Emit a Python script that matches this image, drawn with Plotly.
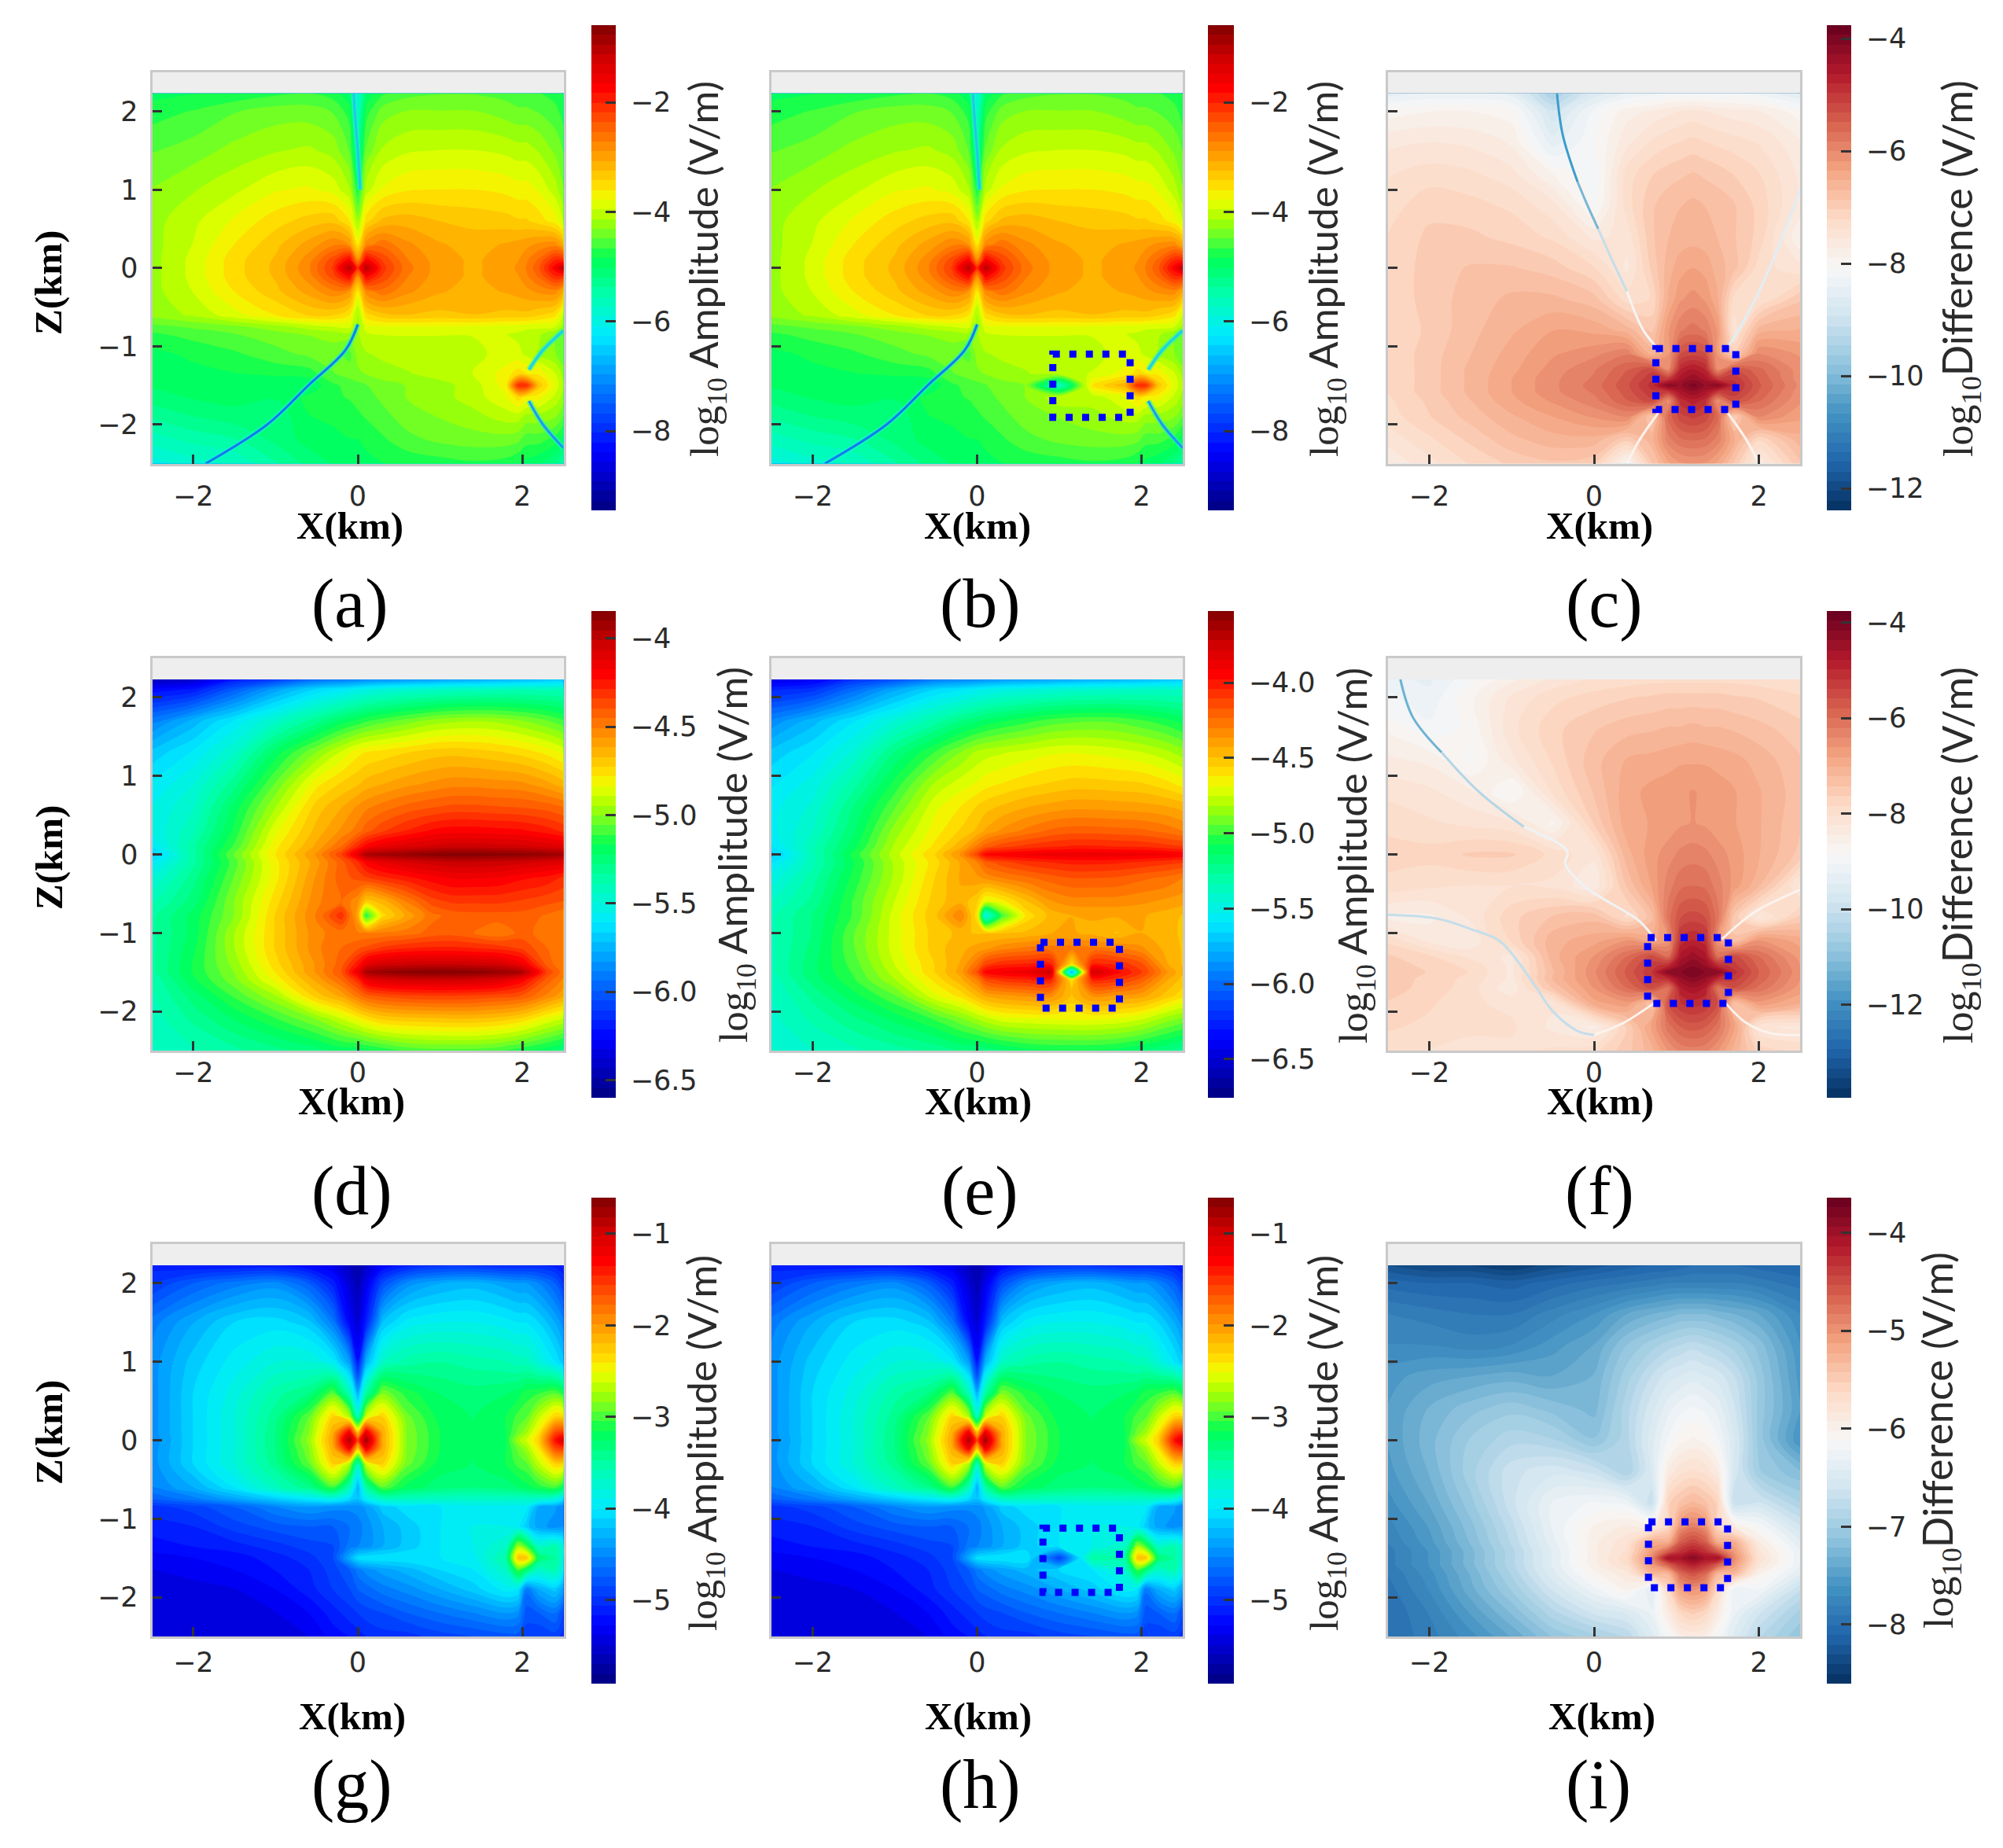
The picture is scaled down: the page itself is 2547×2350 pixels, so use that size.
import copy
import plotly.graph_objects as go

# the page keeps an 8px body margin, so the figure is smaller and positions are shifted back
PAGE_W, PAGE_H, BODY = 2547, 2350, 8
W, H = PAGE_W - 2 * BODY, PAGE_H - 2 * BODY

# grids used by the amplitude panels a,b,g,h (source at x=0, x=2, x=2.5)
x_src = [-2.5, -2, -1.5, -1, -0.6, -0.3, -0.1, 0, 0.1, 0.3, 0.6, 1, 1.4, 1.8, 1.95, 2.05, 2.2, 2.4, 2.5]
z_src = [2.23, 2, 1.5, 1, 0.6, 0.3, 0.1, 0, -0.1, -0.3, -0.6, -0.75, -0.85, -1.1, -1.35, -1.5, -1.65, -1.9, -2.2, -2.5]
# grid for d,e
x_line = [-2.5, -2, -1.5, -1, -0.5, -0.2, 0, 0.1, 0.3, 0.6, 0.9, 1.15, 1.4, 1.7, 2, 2.3, 2.5]
z_line = [2.23, 2.1, 1.7, 1.3, 0.9, 0.6, 0.3, 0.1, 0, -0.1, -0.3, -0.6, -0.78, -1, -1.2, -1.4, -1.5, -1.6, -1.8, -2.1, -2.5]
# grid for the difference panels c,f,i
x_diff = [-2.5, -2, -1.5, -1, -0.5, 0, 0.4, 0.7, 0.9, 1.05, 1.2, 1.35, 1.5, 1.7, 2, 2.5]
z_diff = [2.23, 2, 1.6, 1.2, 0.8, 0.4, 0, -0.4, -0.8, -1.1, -1.3, -1.42, -1.5, -1.58, -1.7, -1.9, -2.2, -2.5]

z_a = [
    [-4.9, -4.85, -4.8, -4.7, -4.65, -4.75, -5.0, -5.9, -5.0, -4.7, -4.55, -4.5, -4.5, -4.55, -4.6, -4.6, -4.65, -4.75, -4.85],
    [-4.75, -4.65, -4.5, -4.4, -4.4, -4.5, -4.75, -5.7, -4.75, -4.4, -4.3, -4.3, -4.3, -4.4, -4.45, -4.45, -4.5, -4.6, -4.75],
    [-4.5, -4.4, -4.25, -4.15, -4.1, -4.2, -4.5, -5.3, -4.45, -4.1, -3.98, -3.95, -3.95, -4.0, -4.05, -4.05, -4.15, -4.35, -4.5],
    [-4.3, -4.15, -4.0, -3.8, -3.75, -3.85, -4.1, -4.8, -4.05, -3.75, -3.62, -3.6, -3.6, -3.65, -3.7, -3.7, -3.8, -4.05, -4.3],
    [-4.2, -4.0, -3.75, -3.5, -3.35, -3.3, -3.6, -4.2, -3.5, -3.2, -3.15, -3.25, -3.3, -3.35, -3.4, -3.4, -3.5, -3.7, -3.95],
    [-4.2, -3.95, -3.6, -3.3, -3.0, -2.75, -2.9, -3.6, -2.8, -2.6, -2.85, -3.05, -3.15, -3.05, -3.0, -2.95, -2.85, -2.8, -3.1],
    [-4.2, -3.9, -3.5, -3.22, -2.8, -2.25, -1.7, -2.8, -1.7, -2.2, -2.7, -3.0, -3.1, -3.0, -2.9, -2.75, -2.5, -2.0, -2.0],
    [-4.2, -3.9, -3.5, -3.2, -2.75, -2.15, -1.0, -2.0, -1.0, -2.1, -2.65, -3.0, -3.1, -3.0, -2.85, -2.7, -2.4, -1.7, -0.9],
    [-4.2, -3.9, -3.5, -3.22, -2.8, -2.25, -1.7, -2.8, -1.7, -2.2, -2.7, -3.0, -3.1, -3.0, -2.9, -2.75, -2.5, -2.0, -2.0],
    [-4.2, -3.95, -3.6, -3.3, -3.0, -2.75, -2.9, -3.6, -2.8, -2.6, -2.85, -3.05, -3.15, -3.05, -3.0, -2.95, -2.85, -2.8, -3.1],
    [-4.25, -4.1, -3.85, -3.6, -3.4, -3.4, -3.6, -4.2, -3.5, -3.3, -3.25, -3.3, -3.25, -3.3, -3.3, -3.3, -3.4, -3.55, -3.95],
    [-4.55, -4.45, -4.35, -4.2, -4.05, -3.95, -3.9, -4.2, -3.85, -3.8, -3.78, -3.78, -3.8, -3.85, -3.85, -3.9, -3.9, -3.95, -4.2],
    [-4.7, -4.6, -4.5, -4.4, -4.3, -4.25, -4.2, -4.15, -4.0, -3.95, -3.95, -3.95, -3.95, -3.95, -4.0, -4.05, -4.1, -4.3, -4.5],
    [-4.9, -4.8, -4.7, -4.55, -4.45, -4.4, -4.55, -4.25, -4.15, -4.1, -4.05, -4.05, -4.0, -3.9, -3.9, -4.0, -4.15, -4.3, -4.5],
    [-4.95, -4.9, -4.85, -4.8, -4.75, -4.5, -4.4, -4.35, -4.3, -4.2, -4.15, -4.05, -3.95, -3.7, -3.5, -3.6, -3.65, -3.95, -4.2],
    [-5.0, -4.95, -4.95, -5.0, -5.0, -4.7, -4.6, -4.55, -4.5, -4.4, -4.3, -4.2, -4.05, -3.7, -2.0, -2.0, -3.3, -3.85, -4.1],
    [-5.1, -5.0, -4.95, -5.0, -4.8, -4.7, -4.65, -4.6, -4.55, -4.45, -4.3, -4.2, -4.05, -3.8, -3.5, -3.65, -3.7, -4.0, -4.2],
    [-5.35, -5.2, -5.1, -5.15, -4.85, -4.8, -4.75, -4.7, -4.65, -4.55, -4.4, -4.3, -4.2, -4.05, -4.05, -4.2, -4.2, -4.3, -4.5],
    [-5.65, -5.5, -5.4, -5.15, -4.95, -4.9, -4.85, -4.85, -4.8, -4.7, -4.55, -4.45, -4.4, -4.4, -4.45, -4.6, -4.6, -4.75, -4.95],
    [-6.0, -5.8, -5.7, -5.4, -5.15, -5.0, -4.95, -4.95, -4.9, -4.85, -4.8, -4.75, -4.7, -4.75, -4.85, -4.9, -5.0, -5.2, -5.4],
]
patch_b = [(1, -1.5, -5.7), (1.4, -1.5, -3.6), (1.8, -1.5, -3.1), (1, -1.35, -4.0), (1, -1.65, -4.0)]

z_g = [
    [-5.11, -5.16, -5.16, -5.16, -5.27, -5.38, -5.59, -5.7, -5.54, -5.27, -5.11, -5.0, -5.0, -5.06, -5.06, -5.06, -5.06, -5.11, -5.16],
    [-4.95, -4.74, -4.58, -4.48, -4.74, -5.11, -5.48, -5.64, -5.38, -4.85, -4.48, -4.32, -4.26, -4.37, -4.42, -4.42, -4.53, -4.74, -4.95],
    [-4.58, -4.32, -4.1, -4.05, -4.16, -4.58, -5.27, -5.48, -5.11, -4.21, -3.95, -3.89, -3.89, -3.95, -4.0, -4.0, -4.1, -4.32, -4.48],
    [-4.48, -4.16, -3.95, -3.79, -3.79, -3.95, -4.4, -5.16, -4.3, -3.68, -3.52, -3.47, -3.52, -3.57, -3.63, -3.63, -3.79, -4.0, -4.16],
    [-4.48, -4.1, -3.84, -3.52, -3.36, -2.95, -3.6, -4.3, -3.5, -2.85, -3.1, -3.26, -3.31, -3.26, -3.2, -3.1, -3.05, -2.95, -3.1],
    [-4.48, -4.1, -3.79, -3.41, -2.95, -2.3, -2.7, -3.6, -2.6, -2.3, -2.9, -3.2, -3.26, -3.15, -3.0, -2.95, -2.65, -2.3, -2.3],
    [-4.48, -4.1, -3.79, -3.36, -2.85, -2.1, -1.2, -2.2, -1.15, -2.1, -2.85, -3.15, -3.26, -3.15, -2.9, -2.75, -2.4, -1.6, -1.5],
    [-4.5, -4.1, -3.8, -3.36, -2.8, -2.05, -0.8, -1.6, -0.75, -2.1, -2.85, -3.15, -3.2, -3.15, -2.75, -2.6, -2.3, -1.35, -0.95],
    [-4.48, -4.1, -3.79, -3.36, -2.85, -2.1, -1.2, -2.2, -1.15, -2.1, -2.85, -3.15, -3.26, -3.15, -2.9, -2.75, -2.4, -1.6, -1.5],
    [-4.48, -4.1, -3.79, -3.41, -2.95, -2.3, -2.7, -3.6, -2.6, -2.3, -2.9, -3.2, -3.26, -3.15, -3.0, -2.95, -2.65, -2.3, -2.3],
    [-4.53, -4.32, -4.0, -3.63, -3.4, -3.0, -3.6, -4.3, -3.5, -2.95, -3.2, -3.31, -3.36, -3.31, -3.26, -3.2, -3.1, -3.0, -3.2],
    [-4.74, -4.58, -4.37, -4.16, -4.0, -3.89, -4.1, -4.21, -3.95, -3.68, -3.65, -3.68, -3.68, -3.68, -3.68, -3.68, -3.7, -3.8, -4.0],
    [-5.0, -4.9, -4.74, -4.53, -4.42, -4.48, -4.5, -4.48, -4.4, -4.16, -4.05, -4.0, -3.95, -3.95, -3.95, -3.95, -4.32, -4.4, -4.53],
    [-5.11, -5.06, -4.9, -4.79, -4.74, -4.74, -4.63, -4.58, -4.48, -4.32, -4.16, -4.0, -3.89, -3.89, -3.95, -4.16, -4.37, -4.48, -4.42],
    [-5.22, -5.16, -5.11, -5.0, -4.9, -4.85, -4.58, -4.53, -4.48, -4.32, -4.16, -4.0, -3.89, -3.68, -2.73, -3.0, -3.68, -3.57, -3.79],
    [-5.32, -5.27, -5.22, -5.11, -5.0, -4.85, -4.32, -4.05, -4.0, -4.0, -4.0, -4.0, -3.95, -3.52, -2.2, -2.2, -3.26, -3.47, -3.79],
    [-5.38, -5.32, -5.27, -5.16, -5.06, -4.9, -4.74, -4.58, -4.48, -4.37, -4.26, -4.1, -4.0, -3.68, -2.99, -3.26, -3.68, -3.57, -3.89],
    [-5.48, -5.43, -5.38, -5.27, -5.11, -4.95, -4.85, -4.74, -4.69, -4.58, -4.48, -4.32, -4.16, -3.95, -4.0, -4.6, -4.32, -4.16, -4.37],
    [-5.48, -5.48, -5.48, -5.38, -5.27, -5.11, -5.0, -4.95, -4.9, -4.85, -4.74, -4.63, -4.53, -4.42, -4.48, -4.8, -4.74, -4.63, -4.85],
    [-5.38, -5.43, -5.48, -5.43, -5.38, -5.22, -5.16, -5.11, -5.06, -5.0, -5.0, -4.9, -4.85, -4.79, -4.79, -4.9, -4.95, -4.9, -5.0],
]
patch_h = [(1, -1.5, -4.9), (1.4, -1.5, -3.5)]

z_d = [
    [-6.45, -6.4, -6.2, -6.1, -5.95, -5.92, -5.9, -5.88, -5.86, -5.84, -5.82, -5.8, -5.79, -5.77, -5.75, -5.72, -5.7],
    [-6.25, -6.2, -6.0, -5.8, -5.65, -5.6, -5.55, -5.53, -5.5, -5.47, -5.45, -5.43, -5.42, -5.41, -5.4, -5.4, -5.4],
    [-5.9, -5.75, -5.6, -5.45, -5.3, -5.2, -5.15, -5.12, -5.08, -5.03, -4.98, -4.96, -4.95, -4.96, -5.0, -5.05, -5.1],
    [-5.7, -5.6, -5.45, -5.2, -5.0, -4.88, -4.8, -4.78, -4.76, -4.73, -4.7, -4.69, -4.7, -4.72, -4.75, -4.8, -4.85],
    [-5.6, -5.5, -5.3, -5.05, -4.8, -4.72, -4.68, -4.65, -4.62, -4.58, -4.55, -4.53, -4.53, -4.54, -4.55, -4.6, -4.65],
    [-5.55, -5.45, -5.2, -4.95, -4.7, -4.62, -4.55, -4.52, -4.48, -4.43, -4.4, -4.38, -4.38, -4.39, -4.4, -4.42, -4.45],
    [-5.55, -5.4, -5.15, -4.85, -4.65, -4.55, -4.48, -4.42, -4.35, -4.28, -4.22, -4.2, -4.2, -4.21, -4.22, -4.26, -4.3],
    [-5.6, -5.35, -5.1, -4.8, -4.6, -4.45, -4.28, -4.2, -4.13, -4.08, -4.05, -4.03, -4.03, -4.04, -4.05, -4.08, -4.1],
    [-5.7, -5.35, -5.05, -4.78, -4.55, -4.35, -4.12, -3.95, -3.92, -3.9, -3.87, -3.86, -3.86, -3.87, -3.88, -3.9, -3.92],
    [-5.6, -5.35, -5.08, -4.8, -4.58, -4.42, -4.3, -4.2, -4.13, -4.07, -4.04, -4.02, -4.02, -4.03, -4.05, -4.08, -4.1],
    [-5.5, -5.3, -5.05, -4.8, -4.55, -4.42, -4.38, -4.35, -4.3, -4.25, -4.2, -4.17, -4.17, -4.18, -4.22, -4.25, -4.3],
    [-5.4, -5.25, -5.0, -4.75, -4.52, -4.45, -4.55, -4.7, -4.65, -4.5, -4.37, -4.33, -4.33, -4.33, -4.35, -4.38, -4.4],
    [-5.35, -5.2, -5.0, -4.72, -4.5, -4.3, -4.6, -5.15, -4.75, -4.6, -4.47, -4.43, -4.42, -4.42, -4.42, -4.46, -4.5],
    [-5.35, -5.2, -4.95, -4.72, -4.52, -4.48, -4.5, -4.5, -4.5, -4.48, -4.43, -4.42, -4.45, -4.5, -4.43, -4.48, -4.5],
    [-5.35, -5.18, -4.95, -4.72, -4.52, -4.45, -4.4, -4.38, -4.32, -4.28, -4.27, -4.27, -4.28, -4.3, -4.35, -4.45, -4.5],
    [-5.35, -5.16, -4.98, -4.75, -4.55, -4.42, -4.25, -4.12, -4.05, -4.03, -4.02, -4.02, -4.03, -4.05, -4.15, -4.42, -4.5],
    [-5.35, -5.16, -5.0, -4.78, -4.55, -4.4, -4.15, -3.95, -3.9, -3.87, -3.86, -3.86, -3.87, -3.9, -3.95, -4.35, -4.48],
    [-5.38, -5.18, -5.02, -4.82, -4.6, -4.45, -4.3, -4.15, -4.08, -4.05, -4.04, -4.04, -4.05, -4.08, -4.2, -4.42, -4.52],
    [-5.4, -5.25, -5.1, -4.95, -4.7, -4.6, -4.48, -4.42, -4.38, -4.35, -4.34, -4.34, -4.35, -4.37, -4.4, -4.52, -4.6],
    [-5.42, -5.32, -5.22, -5.12, -5.0, -4.9, -4.82, -4.78, -4.72, -4.7, -4.69, -4.68, -4.68, -4.7, -4.75, -4.85, -4.9],
    [-5.45, -5.4, -5.35, -5.3, -5.25, -5.2, -5.2, -5.18, -5.15, -5.1, -5.08, -5.08, -5.08, -5.1, -5.15, -5.2, -5.25],
]
patch_e = [(1.15, -1.5, -5.8), (1.15, -1.4, -4.6), (1.15, -1.6, -4.6), (0.9, -1.5, -3.75), (1.4, -1.5, -3.75),
           (1.7, -1.5, -3.95), (2, -1.5, -4.1), (0.1, -0.78, -5.5), (0.3, -0.78, -5.0), (1.15, -1.8, -4.5)]

z_c = [
    [-8.5, -8.4, -8.4, -8.5, -9.5, -8.7, -8.4, -8.3, -8.2, -8.2, -8.2, -8.2, -8.2, -8.2, -8.3, -8.6],
    [-8.0, -7.9, -7.9, -8.0, -8.9, -8.2, -7.8, -7.7, -7.6, -7.55, -7.5, -7.55, -7.6, -7.65, -7.7, -8.0],
    [-7.6, -7.55, -7.6, -7.75, -8.5, -8.1, -7.6, -7.35, -7.25, -7.2, -7.15, -7.2, -7.25, -7.3, -7.4, -7.7],
    [-7.4, -7.3, -7.35, -7.5, -7.9, -8.2, -7.3, -7.05, -6.95, -6.9, -6.85, -6.9, -6.95, -7.05, -7.2, -7.6],
    [-7.3, -7.1, -7.15, -7.25, -7.5, -8.1, -7.3, -6.9, -6.75, -6.7, -6.65, -6.7, -6.75, -6.85, -7.1, -7.6],
    [-7.2, -7.0, -7.0, -7.1, -7.25, -7.6, -7.5, -6.9, -6.7, -6.62, -6.6, -6.62, -6.7, -6.85, -7.1, -7.9],
    [-7.2, -6.95, -6.85, -6.85, -6.95, -7.2, -7.6, -7.0, -6.6, -6.42, -6.35, -6.42, -6.6, -6.8, -7.3, -7.5],
    [-7.2, -6.95, -6.8, -6.65, -6.65, -6.8, -7.3, -7.2, -6.5, -6.2, -6.1, -6.2, -6.5, -7.3, -7.4, -6.9],
    [-7.2, -7.0, -6.75, -6.55, -6.35, -6.4, -6.6, -6.9, -6.2, -5.85, -5.75, -5.85, -6.2, -7.5, -6.6, -6.5],
    [-7.2, -6.95, -6.7, -6.45, -6.2, -6.05, -5.85, -6.6, -6.2, -5.3, -5.2, -5.3, -6.2, -7.0, -6.0, -6.2],
    [-7.2, -6.95, -6.65, -6.4, -6.1, -5.85, -5.5, -5.2, -6.0, -4.8, -4.6, -4.8, -6.0, -5.3, -5.6, -6.1],
    [-7.2, -6.95, -6.65, -6.35, -6.05, -5.8, -5.4, -5.0, -5.0, -4.5, -4.3, -4.5, -5.0, -5.0, -5.5, -6.1],
    [-7.2, -6.95, -6.65, -6.35, -6.05, -5.75, -5.35, -4.9, -4.1, -4.3, -4.0, -4.3, -4.1, -4.9, -5.45, -6.05],
    [-7.2, -6.95, -6.65, -6.35, -6.05, -5.8, -5.4, -5.0, -5.0, -4.5, -4.3, -4.5, -5.0, -5.0, -5.5, -6.1],
    [-7.25, -7.0, -6.7, -6.4, -6.15, -5.9, -5.5, -5.2, -6.1, -4.9, -4.7, -4.9, -6.1, -5.3, -5.65, -6.15],
    [-7.3, -7.05, -6.8, -6.55, -6.35, -6.15, -6.0, -6.9, -5.6, -5.2, -5.1, -5.2, -5.6, -7.0, -6.0, -6.3],
    [-7.5, -7.25, -7.0, -6.75, -6.6, -6.6, -7.0, -6.6, -5.9, -5.7, -5.65, -5.7, -5.9, -6.5, -7.2, -6.6],
    [-7.7, -7.45, -7.2, -7.0, -6.9, -7.0, -8.0, -6.9, -6.4, -6.2, -6.15, -6.2, -6.4, -6.9, -7.7, -6.9],
]

z_f = [
    [-9.2, -9.3, -8.9, -8.5, -8.2, -8.0, -7.95, -7.9, -7.9, -7.9, -7.9, -7.9, -7.9, -7.9, -7.95, -8.05],
    [-9.0, -9.2, -8.7, -8.2, -7.9, -7.75, -7.65, -7.6, -7.55, -7.55, -7.55, -7.55, -7.55, -7.6, -7.65, -7.8],
    [-8.7, -9.0, -8.8, -8.1, -7.7, -7.45, -7.3, -7.25, -7.2, -7.2, -7.15, -7.2, -7.2, -7.25, -7.35, -7.55],
    [-8.4, -8.5, -8.9, -8.3, -7.8, -7.3, -7.0, -6.95, -6.9, -6.85, -6.85, -6.85, -6.9, -6.95, -7.1, -7.4],
    [-8.1, -8.2, -8.4, -8.9, -8.0, -7.4, -6.9, -6.75, -6.7, -6.65, -6.6, -6.65, -6.7, -6.8, -7.0, -7.35],
    [-7.9, -8.0, -8.1, -8.2, -8.7, -7.6, -6.9, -6.8, -6.75, -6.65, -6.6, -6.65, -6.75, -6.8, -7.0, -7.4],
    [-7.75, -7.75, -7.6, -7.6, -7.9, -8.2, -7.1, -6.7, -6.5, -6.35, -6.3, -6.35, -6.5, -6.7, -7.0, -7.5],
    [-7.9, -8.0, -8.05, -8.05, -8.1, -8.4, -7.4, -6.8, -6.3, -6.05, -6.0, -6.05, -6.3, -6.7, -7.2, -8.3],
    [-8.5, -8.5, -8.2, -7.7, -7.4, -7.3, -7.9, -7.3, -6.1, -5.6, -5.5, -5.6, -6.1, -7.5, -8.3, -7.6],
    [-7.9, -8.3, -8.4, -7.8, -7.1, -6.9, -6.6, -6.9, -6.6, -5.1, -4.95, -5.1, -6.6, -7.4, -6.6, -6.9],
    [-7.6, -7.8, -8.1, -8.3, -7.1, -6.6, -6.0, -5.5, -6.0, -4.7, -4.45, -4.7, -6.0, -5.5, -6.0, -6.7],
    [-7.5, -7.7, -7.9, -8.3, -7.2, -6.5, -5.8, -5.3, -5.0, -4.4, -4.2, -4.4, -5.0, -5.3, -5.85, -6.6],
    [-7.45, -7.65, -7.85, -8.3, -7.25, -6.45, -5.75, -5.2, -4.2, -4.2, -3.95, -4.2, -4.2, -5.1, -5.8, -6.55],
    [-7.5, -7.7, -7.9, -8.3, -7.2, -6.5, -5.8, -5.3, -5.0, -4.4, -4.2, -4.4, -5.0, -5.3, -5.85, -6.6],
    [-7.55, -7.7, -7.95, -8.4, -7.4, -6.6, -6.0, -5.5, -6.1, -4.8, -4.6, -4.8, -6.1, -5.6, -6.05, -6.7],
    [-7.65, -7.8, -8.0, -8.1, -8.2, -6.9, -6.7, -7.4, -5.6, -5.2, -5.1, -5.2, -5.6, -7.4, -6.7, -7.0],
    [-7.8, -7.9, -8.0, -8.0, -8.3, -8.5, -7.6, -6.8, -6.1, -5.8, -5.7, -5.8, -6.1, -6.8, -8.2, -8.3],
    [-8.0, -8.05, -8.1, -8.1, -8.0, -7.9, -7.5, -7.1, -6.6, -6.35, -6.3, -6.35, -6.6, -7.1, -7.7, -7.9],
]

z_i = [
    [-8.3, -8.4, -8.4, -8.5, -8.35, -8.25, -8.15, -8.1, -8.1, -8.05, -8.0, -8.0, -8.0, -8.0, -8.05, -8.1],
    [-8.05, -8.1, -8.1, -8.15, -8.05, -7.95, -7.9, -7.85, -7.8, -7.8, -7.8, -7.8, -7.8, -7.8, -7.85, -7.95],
    [-7.8, -7.85, -7.9, -7.9, -7.75, -7.6, -7.4, -7.3, -7.25, -7.2, -7.2, -7.2, -7.25, -7.3, -7.4, -7.7],
    [-7.7, -7.7, -7.75, -7.7, -7.55, -7.4, -7.1, -6.95, -6.85, -6.8, -6.75, -6.8, -6.85, -6.95, -7.15, -7.6],
    [-7.55, -7.45, -7.4, -7.35, -7.4, -7.3, -6.95, -6.7, -6.55, -6.5, -6.45, -6.5, -6.55, -6.7, -7.05, -7.55],
    [-7.5, -7.3, -7.15, -7.05, -7.15, -7.25, -6.85, -6.55, -6.35, -6.25, -6.2, -6.25, -6.35, -6.6, -7.05, -7.5],
    [-7.5, -7.25, -7.0, -6.85, -6.9, -7.1, -6.85, -6.45, -6.2, -6.05, -6.0, -6.05, -6.2, -6.5, -7.05, -7.6],
    [-7.55, -7.3, -6.95, -6.65, -6.55, -6.65, -6.9, -6.5, -5.9, -5.75, -5.7, -5.75, -5.9, -6.55, -7.0, -7.2],
    [-7.65, -7.4, -7.05, -6.65, -6.3, -6.2, -6.25, -6.7, -5.55, -5.4, -5.3, -5.4, -5.55, -6.7, -6.6, -6.9],
    [-7.75, -7.5, -7.15, -6.75, -6.3, -6.0, -5.9, -5.9, -5.6, -5.0, -4.85, -5.0, -5.6, -5.9, -6.15, -6.6],
    [-7.8, -7.55, -7.2, -6.8, -6.35, -5.95, -5.75, -5.2, -5.2, -4.6, -4.45, -4.6, -5.2, -5.2, -5.9, -6.4],
    [-7.85, -7.6, -7.25, -6.85, -6.4, -5.95, -5.7, -5.05, -4.6, -4.3, -4.15, -4.3, -4.6, -5.05, -5.8, -6.3],
    [-7.85, -7.6, -7.25, -6.85, -6.4, -5.95, -5.65, -4.95, -4.0, -4.05, -3.85, -4.05, -4.0, -4.95, -5.75, -6.3],
    [-7.85, -7.6, -7.25, -6.85, -6.4, -5.95, -5.7, -5.05, -4.6, -4.3, -4.15, -4.3, -4.6, -5.05, -5.8, -6.3],
    [-7.9, -7.65, -7.3, -6.9, -6.45, -6.05, -5.85, -5.3, -5.3, -4.7, -4.55, -4.7, -5.3, -5.3, -6.0, -6.4],
    [-7.95, -7.7, -7.35, -7.0, -6.6, -6.25, -6.0, -6.4, -5.6, -5.1, -5.0, -5.1, -5.6, -6.3, -6.2, -6.7],
    [-8.0, -7.8, -7.5, -7.2, -6.85, -6.6, -6.5, -6.3, -5.9, -5.6, -5.5, -5.6, -5.9, -6.3, -6.6, -6.95],
    [-8.0, -7.85, -7.65, -7.4, -7.1, -6.95, -6.8, -6.45, -6.15, -5.95, -5.9, -5.95, -6.15, -6.45, -6.8, -7.1],
]

# thin field nulls: (x list, z list, colour)
nulls_a = [
    ([0, -0.15, -0.6, -1.1, -1.85], [-0.72, -1.05, -1.5, -2, -2.5], "#0f7df0"),
    ([-0.05, -0.03, 0.0, 0.03], [2.23, 1.9, 1.5, 1.0], "#20c8e8"),
    ([2.08, 2.25, 2.5], [-1.3, -1.05, -0.8], "#20d0e0"),
    ([2.08, 2.25, 2.5], [-1.7, -2.0, -2.3], "#2098ee"),
]
nulls_c = [
    ([-0.45, -0.38, -0.2], [2.23, 1.7, 1.1], "#3d9dcb"),
    ([-0.2, -0.08, 0.05], [1.1, 0.8, 0.5], "#78b6d6"),
    ([0.05, 0.22, 0.4], [0.5, 0.1, -0.3], "#c4deea"),
    ([0.4, 0.6, 0.82], [-0.3, -0.8, -1.08], "#f4f5f6"),
    ([2.5, 2.25, 2.0, 1.75, 1.58], [1.0, 0.3, -0.3, -0.8, -1.08], "#e0eef5"),
    ([0.78, 0.55, 0.4], [-1.85, -2.2, -2.5], "#fbf3ee"),
    ([1.62, 1.85, 2.0], [-1.85, -2.2, -2.5], "#fbf3ee"),
]
nulls_f = [
    ([-2.35, -2.2, -1.85], [2.23, 1.75, 1.3], "#6db2d4"),
    ([-1.85, -1.4, -0.85], [1.3, 0.8, 0.35], "#b4d6e6"),
    ([-0.85, -0.4, -0.32, -0.35, -0.1, 0.55, 0.75], [0.35, 0.12, 0.02, -0.12, -0.42, -0.85, -1.1], "#eef3f5"),
    ([-2.5, -1.9, -1.5, -1.15, -0.9, -0.7, -0.5, -0.2, 0.0], [-0.77, -0.82, -0.95, -1.1, -1.4, -1.7, -2.0, -2.25, -2.3], "#c4deea"),
    ([0.0, 0.35, 0.72], [-2.3, -2.15, -1.9], "#fbf3ee"),
    ([2.5, 2.0, 1.8, 1.55], [-0.45, -0.7, -0.85, -1.08], "#fbf3ee"),
    ([1.6, 1.85, 2.15, 2.5], [-1.9, -2.15, -2.28, -2.3], "#fbf3ee"),
]

labels_a = ["\u22122", "\u22124", "\u22126", "\u22128"]
labels_d = ["\u22124", "\u22124.5", "\u22125.0", "\u22125.5", "\u22126.0", "\u22126.5"]
labels_e = ["\u22124.0", "\u22124.5", "\u22125.0", "\u22125.5", "\u22126.0", "\u22126.5"]
labels_g = ["\u22121", "\u22122", "\u22123", "\u22124", "\u22125"]
labels_c = ["\u22124", "\u22126", "\u22128", "\u221210", "\u221212"]
labels_i = ["\u22124", "\u22125", "\u22126", "\u22127", "\u22128"]
ticks_a = [-2, -4, -6, -8]
ticks_d = [-4, -4.5, -5, -5.5, -6, -6.5]
ticks_g = [-1, -2, -3, -4, -5]
ticks_c = [-4, -6, -8, -10, -12]
ticks_i = [-4, -5, -6, -7, -8]

RAINBOW = [[0, "#00007f"], [0.12, "#0000ff"], [0.24, "#0070ff"], [0.36, "#00eaff"], [0.44, "#00ffb4"],
           [0.52, "#00ff55"], [0.56, "#60ff30"], [0.6, "#a8ff00"], [0.64, "#eeff00"], [0.67, "#ffdd00"],
           [0.73, "#ffa000"], [0.8, "#ff5500"], [0.87, "#ff0000"], [0.93, "#d00000"], [1, "#7f0000"]]
RDBU = [[0, "#053061"], [0.1, "#2166ac"], [0.2, "#4393c3"], [0.3, "#92c5de"], [0.4, "#d1e5f0"], [0.5, "#f7f7f7"],
        [0.6, "#fddbc7"], [0.7, "#f4a582"], [0.8, "#d6604d"], [0.9, "#b2182b"], [1, "#67001f"]]


def patched(z, xs, zs, cells):
    out = copy.deepcopy(z)
    for x0, z0, v in cells:
        out[zs.index(z0)][xs.index(x0)] = v
    return out


z_b = patched(z_a, x_src, z_src, patch_b)
z_h = patched(z_g, x_src, z_src, patch_h)
z_e = patched(z_d, x_line, z_line, patch_e)

tops = [92, 837, 1582]
bottoms = [589.5, 1336, 2081]
lefts = [193.5, 981, 1765]
rights = [716.5, 1504, 2289]
bar_lefts = [752, 1536, 2323]
bar_rights = [783, 1569, 2354]
bar_tops = [31.6, 777.4, 1523]
bar_bottoms = [649, 1396, 2140.7]
x_standoff = [8, -5, 0]

AMP = "<span style='font-family:Liberation Serif'>log<sub>10</sub></span> Amplitude (V/m)"
DIF = "<span style='font-family:Liberation Serif'>log<sub>10</sub></span>Difference (V/m)"

panels = [
    dict(tag="(a)", x=x_src, y=z_src, z=z_a, cs=RAINBOW, lim=(-9.45, -0.59), ticks=ticks_a, text=labels_a, title=AMP,
         title_xy=(897, 342), xlab=(445, 668), tag_xy=(445, 767), nulls=nulls_a, box=None),
    dict(tag="(b)", x=x_src, y=z_src, z=z_b, cs=RAINBOW, lim=(-9.45, -0.59), ticks=ticks_a, text=labels_a, title=AMP,
         title_xy=(1685, 342), xlab=(1243, 668), tag_xy=(1246, 767), nulls=nulls_a, box=(0.92, 1.86, -1.1, -1.91)),
    dict(tag="(c)", x=x_diff, y=z_diff, z=z_c, cs=RDBU, lim=(-12.39, -3.76), ticks=ticks_c, text=labels_c, title=DIF,
         title_xy=(2492, 342), xlab=(2034, 668), tag_xy=(2040, 767), nulls=nulls_c, box=(0.75, 1.72, -1.03, -1.81)),
    dict(tag="(d)", x=x_line, y=z_line, z=z_d, cs=RAINBOW, lim=(-6.6, -3.846), ticks=ticks_d, text=labels_d, title=AMP,
         title_xy=(934, 1087), xlab=(447, 1400), tag_xy=(447, 1514), nulls=[], box=None),
    dict(tag="(e)", x=x_line, y=z_line, z=z_e, cs=RAINBOW, lim=(-6.756, -3.524), ticks=ticks_d, text=labels_e, title=AMP,
         title_xy=(1722, 1088), xlab=(1244, 1400), tag_xy=(1246, 1514), nulls=[], box=(0.77, 1.73, -1.12, -1.96)),
    dict(tag="(f)", x=x_diff, y=z_diff, z=z_f, cs=RDBU, lim=(-13.95, -3.76), ticks=ticks_c, text=labels_c, title=DIF,
         title_xy=(2492, 1088), xlab=(2035, 1400), tag_xy=(2034, 1514), nulls=nulls_f, box=(0.65, 1.63, -1.06, -1.9)),
    dict(tag="(g)", x=x_src, y=z_src, z=z_g, cs=RAINBOW, lim=(-5.907, -0.605), ticks=ticks_g, text=labels_g, title=AMP,
         title_xy=(895, 1835), xlab=(448, 2182), tag_xy=(447, 2269), nulls=[], box=None),
    dict(tag="(h)", x=x_src, y=z_src, z=z_h, cs=RAINBOW, lim=(-5.907, -0.605), ticks=ticks_g, text=labels_g, title=AMP,
         title_xy=(1685, 1835), xlab=(1244, 2182), tag_xy=(1246, 2269), nulls=[], box=(0.8, 1.73, -1.12, -1.94)),
    dict(tag="(i)", x=x_diff, y=z_diff, z=z_i, cs=RDBU, lim=(-8.6, -3.64), ticks=ticks_i, text=labels_i, title=DIF,
         title_xy=(2467, 1832), xlab=(2037, 2182), tag_xy=(2032, 2269), nulls=[], box=(0.66, 1.62, -1.04, -1.88)),
]

z_label_y = [359, 1090, 1821]
TICK_FONT = dict(family="DejaVu Sans", size=35, color="#2b2b2b")
LABEL_FONT = dict(family="Liberation Serif", size=49, color="#000000")

fig = go.Figure()
annotations = []
shapes = []


def fx(px):
    return (px - BODY) / W


def fy(py):
    return 1 - (py - BODY) / H


def note(text, px, py, font, angle=0):
    annotations.append(dict(text=text, x=fx(px), y=fy(py), xref="paper", yref="paper", showarrow=False,
                            xanchor="center", yanchor="middle", textangle=angle, font=font))


for i, p in enumerate(panels):
    row, col = i // 3, i % 3
    ax = "" if i == 0 else str(i + 1)
    lo, hi = p["lim"]
    fig.add_trace(go.Contour(
        x=p["x"], y=p["y"], z=p["z"], xaxis="x" + ax, yaxis="y" + ax,
        colorscale=p["cs"], zmin=lo, zmax=hi, showscale=True, hoverinfo="skip",
        contours=dict(coloring="fill", start=lo, end=hi, size=(hi - lo) / 50, showlines=False),
        line=dict(width=0),
        colorbar=dict(x=fx(bar_lefts[col]), xanchor="left", xpad=0, ypad=0, thickness=bar_rights[col] - bar_lefts[col],
                      y=fy(bar_bottoms[row]), yanchor="bottom", len=(bar_bottoms[row] - bar_tops[row]) / H,
                      outlinewidth=0, tickmode="array", tickvals=p["ticks"],
                      ticktext=["\u00a0" + t for t in p["text"]],
                      ticks="inside", ticklen=13, tickwidth=3, tickcolor="#333333", tickfont=TICK_FONT),
    ))
    for nx, nz, colour in p["nulls"]:
        if p["cs"] is RAINBOW:
            fig.add_trace(go.Scatter(x=nx, y=nz, xaxis="x" + ax, yaxis="y" + ax, mode="lines", showlegend=False,
                                     hoverinfo="skip", opacity=0.6,
                                     line=dict(color="#19f5d0", width=7, shape="spline")))
        fig.add_trace(go.Scatter(x=nx, y=nz, xaxis="x" + ax, yaxis="y" + ax, mode="lines", showlegend=False,
                                 hoverinfo="skip", line=dict(color=colour, width=3, shape="spline")))
    show_y = col == 0
    fig.update_layout({
        "xaxis" + ax: dict(domain=[fx(lefts[col]), fx(rights[col])], range=[-2.5, 2.5], anchor="y" + ax,
                           tickvals=[-2, 0, 2], ticks="inside", ticklen=12, tickwidth=3, tickcolor="#333333",
                           tickfont=TICK_FONT, ticklabelstandoff=x_standoff[row], showgrid=False, zeroline=False,
                           showline=True, mirror=True, linecolor="#c9c9c9", linewidth=3),
        "yaxis" + ax: dict(domain=[fy(bottoms[row]), fy(tops[row])], range=[-2.5, 2.5], anchor="x" + ax,
                           tickvals=[-2, -1, 0, 1, 2], ticks="inside", ticklen=12, tickwidth=3, tickcolor="#333333",
                           tickfont=TICK_FONT, showticklabels=show_y, ticklabelstandoff=8, showgrid=False,
                           zeroline=False, showline=True, mirror=True, linecolor="#c9c9c9", linewidth=3),
    })
    # grey band over the top of the section, where there is no field
    shapes.append(dict(type="rect", xref="x" + ax, yref="y" + ax, x0=-2.48, x1=2.48, y0=2.235, y1=2.48, layer="above",
                       fillcolor="#eeeeee", line=dict(width=0)))
    if p["box"]:
        x0, x1, z0, z1 = p["box"]
        shapes.append(dict(type="rect", xref="x" + ax, yref="y" + ax, x0=x0, x1=x1, y0=z0, y1=z1, layer="above",
                           line=dict(color="#0000ff", width=9, dash="9px,12px")))
    title_size = 51 if p["title"] == AMP else 52
    note(p["title"], p["title_xy"][0], p["title_xy"][1], dict(family="Lato", size=title_size, color="#2b2b2b"), angle=-90)
    note("<b>X(km)</b>", p["xlab"][0], p["xlab"][1], LABEL_FONT)
    note(p["tag"], p["tag_xy"][0], p["tag_xy"][1], dict(family="Liberation Serif", size=88, color="#000000"))
    if show_y:
        note("<b>Z(km)</b>", 62, z_label_y[row], LABEL_FONT, angle=-90)

fig.update_layout(width=W, height=H, margin=dict(l=0, r=0, t=0, b=0), paper_bgcolor="white",
                  plot_bgcolor="#eeeeee", showlegend=False, annotations=annotations, shapes=shapes)

fig.write_html("out.html")
